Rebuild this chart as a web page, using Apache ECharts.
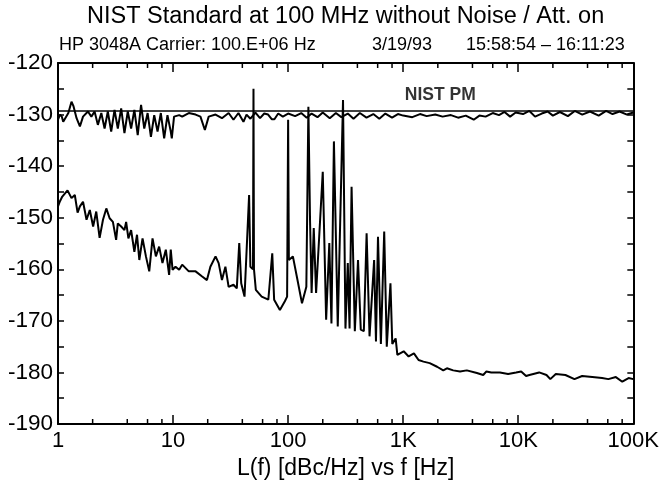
<!DOCTYPE html>
<html>
<head>
<meta charset="utf-8">
<script src="https://cdn.jsdelivr.net/npm/echarts@6/dist/echarts.min.js"></script>
<style>html,body{margin:0;padding:0;background:#fff}#c{width:662px;height:490px}</style>
</head>
<body>
<div id="c"></div>
<script>
// ---------- text ----------
const mainTitle = 'NIST Standard at 100 MHz without Noise / Att. on';
const subLeft = 'HP 3048A Carrier: 100.E+06 Hz';
const subDate = '3/19/93';
const subTime = '15:58:54 \u2013 16:11:23';
const xAxisTitle = 'L(f) [dBc/Hz] vs f [Hz]';
const refLabel = 'NIST PM';

// ---------- axis ticks ----------
const xTickLabels = ['1', '10', '100', '1K', '10K', '100K'];
const yTickValues = [-190, -180, -170, -160, -150, -140, -130, -120];
const minorMultipliers = [2, 4, 6, 8];
const decades = [1, 10, 100, 1000, 10000];

// ---------- data: [f (Hz), L(f) dBc/Hz] ----------
const nistPmLevel = -129.3;
const nistPm = [[1, nistPmLevel], [100000, nistPmLevel]];
const refLabelAt = [[2100, nistPmLevel]];

const upperTrace = [
  [1.0,-131.0],[1.04,-130.0],[1.08,-130.4],[1.11,-131.4],[1.23,-129.7],[1.31,-127.5],[1.36,-128.3],
  [1.45,-130.7],[1.55,-132.3],[1.65,-130.4],[1.82,-129.4],[1.95,-130.4],[2.08,-129.4],[2.22,-132.0],
  [2.38,-129.7],[2.54,-132.7],[2.71,-129.4],[2.90,-133.3],[3.10,-129.1],[3.31,-132.7],[3.54,-128.8],
  [3.78,-133.6],[4.04,-129.4],[4.32,-132.7],[4.61,-129.1],[4.93,-134.0],[5.27,-128.1],[5.62,-132.7],
  [6.01,-129.7],[6.42,-134.3],[6.86,-130.1],[7.33,-133.3],[7.83,-129.7],[8.37,-134.6],[8.94,-130.1],
  [9.55,-133.3],[9.75,-134.6],[10.2,-130.4],[11.3,-130.1],[12,-130.4],[13.7,-129.7],[15.7,-130.0],
  [17.3,-130.4],[18.9,-133.0],[20.4,-130.4],[23.4,-130.0],[26.6,-130.7],[30.4,-129.7],[33.5,-131.0],
  [37,-129.7],[40.9,-131.4],[43.5,-130.0],[47,-130.8],[52,-129.6],[57,-130.7],[62,-129.8],[67,-130.0],
  [72,-130.9],[76,-130.9],[82,-129.8],[90,-130.4],[100,-129.8],[115,-130.3],[130,-129.7],[145,-130.6],
  [160,-129.8],[180,-130.5],[200,-129.6],[230,-130.7],[260,-129.7],[290,-130.5],[330,-129.8],
  [370,-130.8],[420,-129.7],[480,-130.6],[550,-129.9],[620,-130.8],[700,-129.8],[800,-130.6],
  [900,-129.9],[1000,-130.2],[1200,-130.5],[1400,-129.9],[1600,-130.3],[1900,-130.0],[2200,-130.4],
  [2600,-130.1],[3000,-130.6],[3500,-130.2],[4100,-131.0],[4600,-130.2],[5200,-130.4],[6000,-129.7],
  [6800,-130.1],[7600,-129.5],[8500,-130.4],[9500,-129.6],[11000,-129.9],[12500,-129.3],[14000,-130.4],
  [16000,-129.8],[18000,-129.4],[20000,-130.2],[23000,-129.5],[27000,-130.3],[31000,-129.3],
  [36000,-130.0],[42000,-129.4],[50000,-130.2],[58000,-129.3],[66000,-129.9],[76000,-129.4],
  [88000,-130.0],[100000,-129.6]
];

const lowerTrace = [
  [1.0,-147.8],[1.04,-146.8],[1.09,-145.9],[1.21,-144.7],[1.31,-146.2],[1.40,-145.6],[1.48,-149.0],
  [1.55,-147.8],[1.65,-146.9],[1.77,-150.4],[1.89,-148.5],[2.02,-151.7],[2.15,-148.8],[2.30,-153.9],
  [2.46,-150.4],[2.63,-148.2],[2.81,-150.1],[3.00,-150.8],[3.20,-154.3],[3.31,-151.1],[3.54,-151.7],
  [3.78,-152.4],[3.91,-150.8],[4.09,-154.0],[4.32,-152.4],[4.61,-156.6],[4.86,-153.3],[5.09,-158.2],
  [5.43,-154.0],[5.81,-157.5],[6.21,-160.4],[6.63,-154.0],[7.09,-157.5],[7.57,-155.6],[8.09,-158.8],
  [8.65,-156.2],[9.24,-161.1],[9.55,-156.2],[9.9,-160.1],[10.5,-159.5],[11.3,-160.1],[12.0,-159.1],
  [13.7,-160.4],[15.7,-160.4],[17.9,-161.4],[19.7,-162.1],[21.1,-159.5],[23.4,-157.5],[24.9,-158.8],
  [26.6,-162.1],[28.5,-159.5],[30.4,-163.4],[33.5,-163.0],[35.8,-163.7],[37.6,-154.9],[39.1,-162.7],
  [41.8,-165.3],[45.8,-145.6],[47.0,-159.5],[49.5,-160.0],[50,-125.0],[50.5,-160.0],[52.4,-164.0],
  [58.9,-165.3],[67.3,-165.9],[72.8,-156.9],[75.6,-165.9],[84.8,-167.9],[93.7,-166.2],[98,-165.3],
  [100,-131.0],[101.5,-158.2],[110,-157.5],[119,-161.4],[132,-166.6],[144,-163.4],[150,-128.5],
  [155,-150.4],[160,-164.6],[167,-152.0],[175,-164.6],[200,-141.1],[214,-169.8],[228,-154.9],
  [238,-170.5],[250,-135.2],[270,-171.1],[300,-127.2],[315,-171.5],[330,-158.8],[342,-171.5],
  [356,-144.0],[380,-172.0],[405,-158.2],[428,-171.7],[455,-172.0],[481,-153.0],[510,-173.0],
  [559,-158.2],[580,-174.0],[604,-153.7],[640,-174.5],[684,-152.7],[720,-175.0],[775,-162.7],
  [804,-174.5],[860,-173.4],[890,-176.6],[1010,-175.9],[1115,-176.9],[1240,-176.3],[1360,-177.6],
  [1500,-177.9],[1700,-178.2],[1970,-178.9],[2230,-179.6],[2400,-179.2],[2720,-179.6],[3120,-179.8],
  [3570,-179.6],[4370,-180.1],[4960,-180.5],[5290,-179.8],[5830,-180.0],[6930,-180.0],[8170,-180.3],
  [9580,-180.0],[10600,-179.8],[11700,-180.7],[12500,-180.5],[15200,-180.0],[17600,-180.5],
  [19000,-181.3],[21200,-180.3],[25700,-180.5],[30800,-181.3],[35900,-180.7],[44000,-180.9],
  [53500,-181.1],[60700,-181.3],[70500,-180.9],[80200,-181.8],[91000,-181.1],[100000,-181.3]
];

// ---------- build ----------
const minorTickFreqs = [];
decades.forEach(d => minorMultipliers.forEach(m => minorTickFreqs.push([d * m])));

const FONT = 'Liberation Sans, Arial, Helvetica, sans-serif';
const yMin = -190, yMax = -120;

const chart = echarts.init(document.getElementById('c'), null, {renderer: 'canvas'});

const xAxisCommon = {
  type: 'log', logBase: 10, min: 1, max: 100000,
  splitLine: {show: false},
  axisLine: {show: true, lineStyle: {color: '#000', width: 2}},
  axisTick: {show: true, inside: true, length: 9, lineStyle: {color: '#000', width: 1.5}}
};
const yAxisCommon = {
  type: 'value', min: yMin, max: yMax, interval: 5,
  splitLine: {show: false},
  axisLine: {show: true, lineStyle: {color: '#000', width: 2}},
  axisTick: {show: true, inside: true, length: 6, lineStyle: {color: '#000', width: 1.5}}
};
const subStyle = {fontFamily: FONT, fontSize: 18, fontWeight: 'normal', color: '#000'};

const option = {
  animation: false,
  backgroundColor: '#fff',
  title: [
    {text: mainTitle, left: 87, top: 5, padding: 0, textStyle: {fontFamily: FONT, fontSize: 23.5, fontWeight: 'normal', color: '#000'}},
    {text: subLeft, left: 59, top: 36, padding: 0, textStyle: subStyle},
    {text: subDate, left: 372, top: 36, padding: 0, textStyle: subStyle},
    {text: subTime, left: 466, top: 36, padding: 0, textStyle: subStyle}
  ],
  grid: {left: 58, right: 23, top: 63, bottom: 66, containLabel: false},
  xAxis: [
    Object.assign({}, xAxisCommon, {
      position: 'bottom',
      name: xAxisTitle, nameLocation: 'middle', nameGap: 32,
      nameTextStyle: {fontFamily: FONT, fontSize: 23, color: '#000'},
      axisLabel: {
        show: true, margin: 6, fontFamily: FONT, fontSize: 22, color: '#000',
        formatter: v => xTickLabels[Math.round(Math.log10(v))]
      }
    }),
    Object.assign({}, xAxisCommon, {position: 'top', axisLabel: {show: false}})
  ],
  yAxis: [
    Object.assign({}, yAxisCommon, {
      position: 'left',
      axisLabel: {
        show: true, margin: 5, fontFamily: FONT, fontSize: 22.5, color: '#000',
        formatter: v => (yTickValues.indexOf(v) >= 0 ? String(v) : '')
      }
    }),
    Object.assign({}, yAxisCommon, {position: 'right', axisLabel: {show: false}})
  ],
  series: [
    {
      type: 'custom', xAxisIndex: 0, yAxisIndex: 0, silent: true, clip: false,
      data: minorTickFreqs,
      renderItem: (params, api) => {
        const f = api.value(0);
        const b = api.coord([f, yMin]);
        const t = api.coord([f, yMax]);
        return {
          type: 'group',
          children: [
            {type: 'line', shape: {x1: b[0], y1: b[1], x2: b[0], y2: b[1] - 5}, style: {stroke: '#000', lineWidth: 1.5}},
            {type: 'line', shape: {x1: t[0], y1: t[1], x2: t[0], y2: t[1] + 5}, style: {stroke: '#000', lineWidth: 1.5}}
          ]
        };
      }
    },
    {
      name: refLabel, type: 'line', data: nistPm, symbol: 'none',
      lineStyle: {color: '#000', width: 1.6}, silent: true
    },
    {
      type: 'scatter', data: refLabelAt, symbolSize: 1, silent: true,
      itemStyle: {color: 'rgba(0,0,0,0)'},
      label: {show: true, formatter: refLabel, position: 'top', distance: 6,
        fontFamily: FONT, fontSize: 17.5, fontWeight: 'bold', color: '#000'}
    },
    {
      name: 'upper', type: 'line', data: upperTrace, symbol: 'none',
      lineStyle: {color: '#000', width: 2}, silent: true
    },
    {
      name: 'lower', type: 'line', data: lowerTrace, symbol: 'none',
      lineStyle: {color: '#000', width: 2}, silent: true
    }
  ]
};
chart.setOption(option);
</script>
</body>
</html>
